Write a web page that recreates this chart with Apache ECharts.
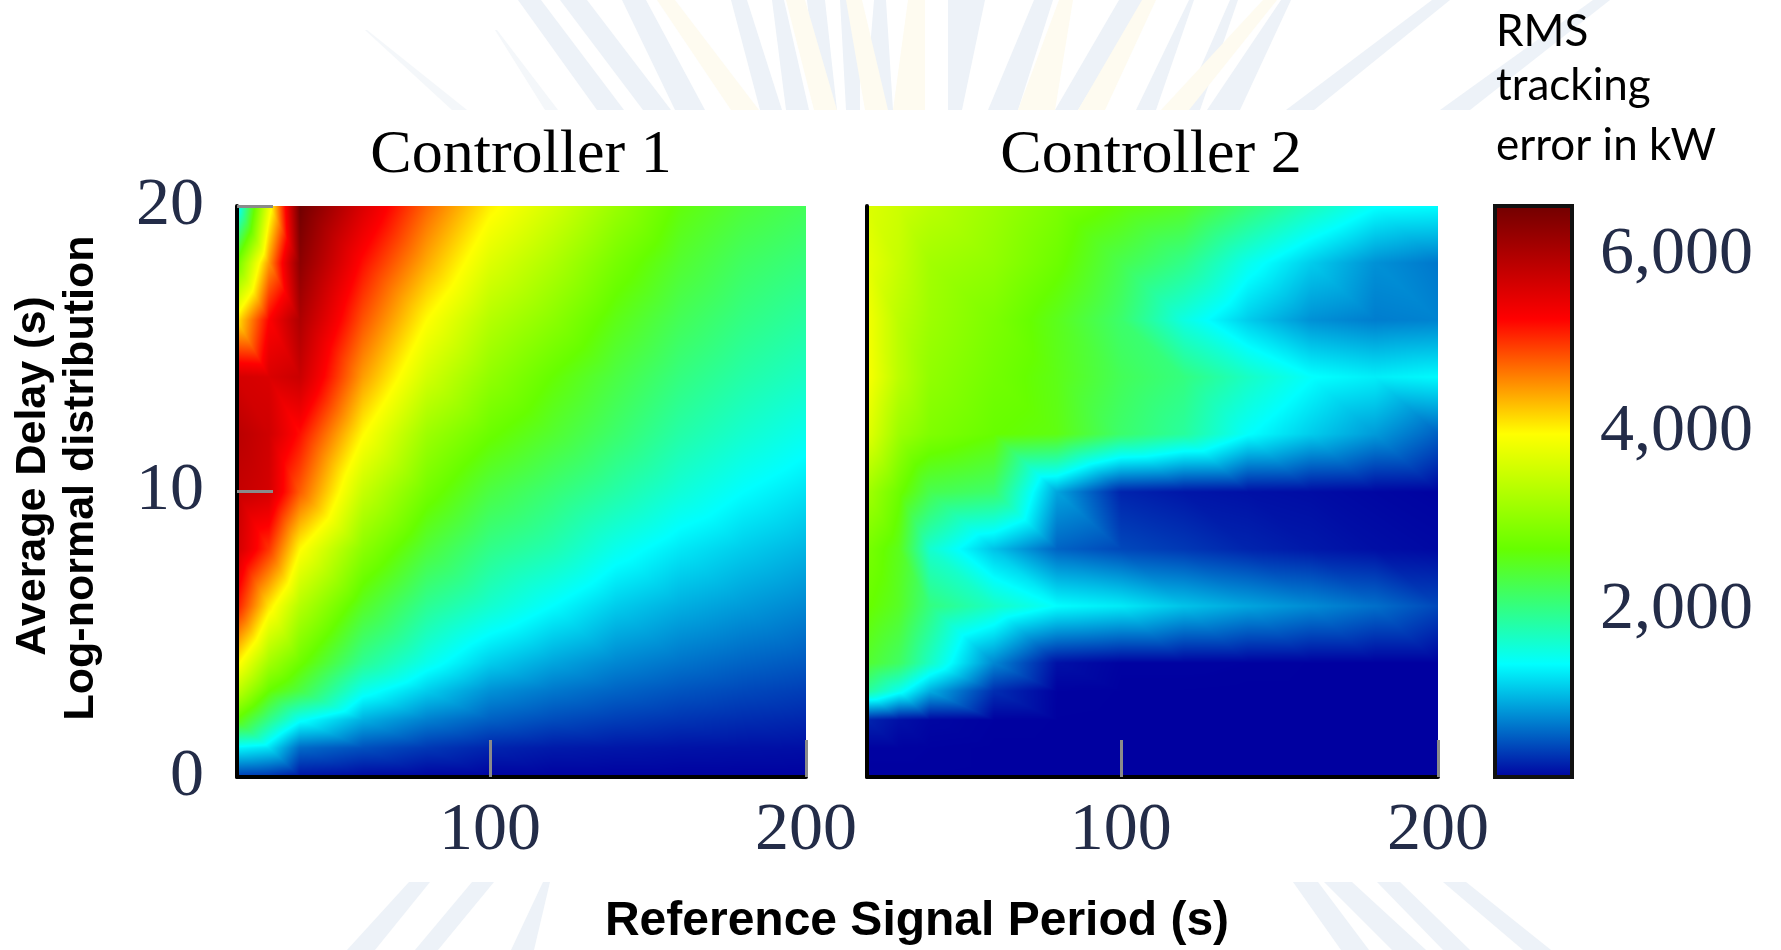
<!DOCTYPE html>
<html>
<head>
<meta charset="utf-8">
<title>RMS tracking error</title>
<script src="https://cdn.jsdelivr.net/npm/echarts@6/dist/echarts.min.js"></script>
<style>
  html, body { margin: 0; padding: 0; background: #fff; }
  #container { width: 1781px; height: 950px; }
</style>
</head>
<body>
<div id="container"></div>
<script>
// grid nodes of the two surfaces
const periods = [20, 30, 40, 60, 80, 100, 120, 140, 160, 180, 200];
const delays = [0, 1, 2, 3, 4, 6, 8, 10, 12, 14, 16, 18, 20];

// RMS error in kW, one row per period, values follow delays
const controller1 = [
  [400, 1350, 2650, 3450, 4050, 5150, 5700, 5800, 5900, 5650, 4100, 2750, 1300],
  [350, 1250, 2000, 2692, 3200, 4100, 5000, 5650, 5700, 5600, 5265, 4500, 3800],
  [200, 650, 1450, 2350, 2750, 3350, 4000, 4800, 5200, 5750, 6000, 6300, 6550],
  [150, 520, 1000, 1500, 1950, 2500, 3000, 3500, 4000, 4470, 4850, 5200, 5600],
  [130, 400, 760, 1150, 1500, 1950, 2400, 2800, 3150, 3600, 3980, 4400, 4750],
  [120, 300, 600, 850, 1150, 1650, 2000, 2350, 2730, 3050, 3350, 3700, 4050],
  [120, 250, 500, 720, 950, 1400, 1800, 2100, 2450, 2680, 3000, 3300, 3620],
  [120, 230, 430, 620, 800, 1150, 1500, 1850, 2150, 2350, 2580, 2830, 3120],
  [120, 210, 380, 540, 700, 1000, 1290, 1600, 1850, 2050, 2250, 2450, 2640],
  [120, 200, 340, 480, 620, 900, 1150, 1405, 1650, 1850, 2030, 2200, 2400],
  [120, 190, 310, 430, 560, 800, 1030, 1260, 1490, 1700, 1880, 2060, 2250],
];
const controller2 = [
  [120, 130, 300, 1900, 2450, 2720, 2850, 3200, 3750, 3950, 3900, 3800, 3700],
  [120, 130, 200, 1500, 2200, 2500, 2550, 2750, 3150, 3400, 3400, 3500, 3550],
  [120, 125, 150, 1000, 1700, 2050, 1650, 2300, 2900, 3050, 3150, 3200, 3400],
  [118, 118, 125, 350, 800, 1700, 1100, 2150, 2700, 2800, 2880, 3050, 3150],
  [118, 118, 120, 125, 200, 1400, 620, 950, 2600, 2580, 2550, 2750, 2880],
  [118, 118, 118, 120, 130, 1300, 480, 300, 2150, 2250, 2150, 2300, 2650],
  [118, 118, 118, 120, 130, 1100, 400, 230, 1900, 2050, 1550, 2000, 2500],
  [118, 118, 118, 118, 125, 950, 300, 200, 1420, 1700, 1150, 1500, 2100],
  [118, 118, 118, 118, 120, 820, 240, 180, 1150, 1420, 850, 1150, 1750],
  [118, 118, 118, 118, 118, 680, 190, 150, 900, 1320, 750, 850, 1430],
  [118, 118, 118, 118, 118, 480, 160, 130, 600, 1380, 780, 720, 1400],
];

const xTicks = [100, 200];
const yTicks = [10, 20];
const yLabels = [0, 10, 20];
const barTicks = [2000, 4000, 6000];
const barMin = 118;
const barMax = 6552;

// colormap: position, r, g, b
const colorStops = [
  [0, 0, 0, 160],
  [0.2, 0, 255, 255],
  [0.4, 102, 255, 0],
  [0.6, 255, 255, 0],
  [0.8, 255, 0, 0],
  [1, 112, 0, 0],
];

// pale rays of the slide background: top x from, top x to, bottom x from, bottom x to
const topRaysBlue = [
  [518, 541, 597, 624], [560, 587, 643, 671], [622, 646, 675, 705], [731, 747, 760, 782],
  [772, 784, 786, 809], [807, 825, 819, 837], [840, 860, 846, 860], [874, 886, 865, 893],
  [948, 985, 948, 962], [1034, 1053, 988, 1018], [1119, 1145, 1055, 1078], [1189, 1194, 1136, 1156],
  [1230, 1238, 1182, 1200], [1281, 1291, 1207, 1240], [1432, 1450, 1286, 1314], [1593, 1610, 1440, 1470],
];
const topRaysYellow = [
  [657, 675, 731, 759], [786, 805, 814, 837], [846, 862, 865, 888], [908, 925, 893, 925],
  [1059, 1073, 1018, 1055], [1142, 1156, 1078, 1105], [1263, 1277, 1161, 1189],
];
const faintRays = [[365, 367, 452, 467], [495, 497, 545, 558]];
const bottomRaysBlue = [
  [409, 430, 347, 375], [472, 494, 415, 438], [543, 550, 511, 534], [1293, 1318, 1341, 1369],
  [1324, 1352, 1392, 1426], [1377, 1400, 1443, 1470], [1443, 1466, 1523, 1551],
];

const dom = document.getElementById("container");
const myChart = echarts.init(dom, null, { renderer: "canvas" });

const serif = '"Liberation Serif", serif';
const numberColor = "#232c48";
const sans = '"Liberation Sans", sans-serif';

function mapColor(value) {
  const t = Math.min(1, Math.max(0, (value - barMin) / (barMax - barMin)));
  for (let i = 1; i < colorStops.length; i++) {
    if (t <= colorStops[i][0]) {
      const a = colorStops[i - 1];
      const b = colorStops[i];
      const f = (t - a[0]) / (b[0] - a[0]);
      return [a[1] + f * (b[1] - a[1]), a[2] + f * (b[2] - a[2]), a[3] + f * (b[3] - a[3])];
    }
  }
  return colorStops[colorStops.length - 1].slice(1);
}

// one item per quad of the node grid
function buildCells(values) {
  const cells = [];
  for (let i = 0; i < periods.length - 1; i++) {
    for (let j = 0; j < delays.length - 1; j++) {
      cells.push([
        periods[i], delays[j], periods[i + 1], delays[j + 1],
        values[i][j], values[i + 1][j], values[i][j + 1], values[i + 1][j + 1],
      ]);
    }
  }
  return cells;
}

// gouraud shading of a quad, split in two triangles like the original shader
function renderCell(params, api) {
  const tl = api.coord([api.value(0), api.value(3)]);
  const br = api.coord([api.value(2), api.value(1)]);
  const x = Math.round(tl[0]);
  const y = Math.round(tl[1]);
  const w = Math.round(br[0]) - x;
  const h = Math.round(br[1]) - y;
  const a = api.value(4);
  const b = api.value(5);
  const c = api.value(6);
  const d = api.value(7);
  const canvas = document.createElement("canvas");
  canvas.width = w;
  canvas.height = h;
  const ctx = canvas.getContext("2d");
  const img = ctx.createImageData(w, h);
  for (let py = 0; py < h; py++) {
    const v = 1 - (py + 0.5) / h;
    for (let px = 0; px < w; px++) {
      const u = (px + 0.5) / w;
      const val = u + v <= 1
        ? a + u * (b - a) + v * (c - a)
        : d + (1 - u) * (c - d) + (1 - v) * (b - d);
      const rgb = mapColor(val);
      const k = (py * w + px) * 4;
      img.data[k] = rgb[0];
      img.data[k + 1] = rgb[1];
      img.data[k + 2] = rgb[2];
      img.data[k + 3] = 255;
    }
  }
  ctx.putImageData(img, 0, 0);
  return {
    type: "image",
    silent: true,
    style: { image: canvas, x: x, y: y, width: w, height: h },
  };
}

function renderBar(params, api) {
  const top = api.coord([0, api.value(1)]);
  const bottom = api.coord([0, api.value(0)]);
  const size = api.size([1, 0]);
  return {
    type: "rect",
    silent: true,
    shape: { x: top[0] - size[0] / 2, y: top[1], width: size[0], height: bottom[1] - top[1] },
    style: {
      fill: new echarts.graphic.LinearGradient(0, 1, 0, 0, colorStops.map(function (s) {
        return { offset: s[0], color: "rgb(" + s[1] + "," + s[2] + "," + s[3] + ")" };
      })),
      stroke: "#111",
      lineWidth: 4,
    },
  };
}

function rayPolygons(rays, color, y0, y1) {
  return rays.map(function (r) {
    return {
      type: "polygon",
      silent: true,
      z: -10,
      shape: { points: [[r[0], y0], [r[1], y0], [r[3], y1], [r[2], y1]] },
      style: { fill: color },
    };
  });
}

function label(text, x, y, font, rotation, align) {
  return {
    type: "text",
    silent: true,
    x: x,
    y: y,
    rotation: rotation || 0,
    style: { text: text, font: font, fill: "#000", align: align || "center", verticalAlign: "middle" },
  };
}

function xAxisOf(gridIndex) {
  return {
    type: "value",
    gridIndex: gridIndex,
    min: 20,
    max: 200,
    z: 10,
    splitLine: { show: false },
    axisLine: { onZero: false, lineStyle: { color: "#000", width: 4 } },
    axisTick: { inside: true, length: 37, customValues: xTicks, lineStyle: { color: "#8a8a8a", width: 3 } },
    axisLabel: { customValues: xTicks, margin: 20, fontFamily: serif, fontSize: 68, color: numberColor },
  };
}

function yAxisOf(gridIndex, labelled) {
  return {
    type: "value",
    gridIndex: gridIndex,
    min: 0,
    max: 20,
    z: 10,
    splitLine: { show: false },
    axisLine: { onZero: false, lineStyle: { color: "#000", width: 4 } },
    axisTick: { show: labelled, inside: true, length: 36, customValues: yTicks, lineStyle: { color: "#8a8a8a", width: 3 } },
    axisLabel: {
      show: labelled,
      customValues: yLabels,
      margin: 33,
      fontFamily: serif,
      fontSize: 68,
      color: numberColor,
    },
  };
}

const option = {
  animation: false,
  backgroundColor: "#fff",
  graphic: {
    elements: [
      ...rayPolygons(faintRays, "#f4f7fa", 30, 110),
      ...rayPolygons(topRaysBlue, "#edf2f8", 0, 110),
      ...rayPolygons(topRaysYellow, "#fefbf0", 0, 110),
      ...rayPolygons(bottomRaysBlue, "#edf2f8", 882, 950),
      label("Controller 1", 521, 156, "62px " + serif),
      label("Controller 2", 1151, 156, "62px " + serif),
      label("Reference Signal Period (s)", 917, 922, "bold 48px " + sans),
      label("Average Delay (s)", 33, 476, "bold 43px " + sans, Math.PI / 2),
      label("Log-normal distribution", 81, 478, "bold 43px " + sans, Math.PI / 2),
      label("RMS", 1496, 32, "44px Lato", 0, "left"),
      label("tracking", 1496, 86, "44px Lato", 0, "left"),
      label("error in kW", 1496, 146, "44px Lato", 0, "left"),
    ],
  },
  grid: [
    { left: 237, top: 206, width: 569, height: 571 },
    { left: 867, top: 206, width: 571, height: 571 },
    { left: 1495, top: 206, width: 77, height: 571 },
  ],
  xAxis: [
    xAxisOf(0),
    xAxisOf(1),
    { type: "category", gridIndex: 2, data: ["error"], show: false },
  ],
  yAxis: [
    yAxisOf(0, true),
    yAxisOf(1, false),
    {
      type: "value",
      gridIndex: 2,
      position: "right",
      min: barMin,
      max: barMax,
      z: 10,
      splitLine: { show: false },
      axisLine: { show: false },
      axisTick: { inside: true, length: 74, customValues: barTicks, lineStyle: { color: "#8a8a8a", width: 3 } },
      axisLabel: {
        customValues: barTicks,
        margin: 28,
        fontFamily: serif,
        fontSize: 68,
        color: numberColor,
        formatter: function (v) { return Number(v).toLocaleString("en-US"); },
      },
    },
  ],
  series: [
    {
      type: "custom",
      name: "Controller 1",
      xAxisIndex: 0,
      yAxisIndex: 0,
      clip: true,
      renderItem: renderCell,
      encode: { x: [0, 2], y: [1, 3] },
      data: buildCells(controller1),
    },
    {
      type: "custom",
      name: "Controller 2",
      xAxisIndex: 1,
      yAxisIndex: 1,
      clip: true,
      renderItem: renderCell,
      encode: { x: [0, 2], y: [1, 3] },
      data: buildCells(controller2),
    },
    {
      type: "custom",
      name: "Colorbar",
      xAxisIndex: 2,
      yAxisIndex: 2,
      renderItem: renderBar,
      encode: { y: [0, 1] },
      data: [[barMin, barMax]],
    },
  ],
};

myChart.setOption(option);
window.addEventListener("resize", myChart.resize);
</script>
</body>
</html>
